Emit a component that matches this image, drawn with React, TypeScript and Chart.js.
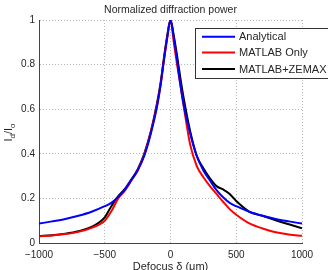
import React, { useEffect, useRef } from "react";
import { Chart, registerables } from "chart.js";

Chart.register(...registerables);

// Defocus positions (µm) shared by all three curves
const defocusUm = [
  -1000, -900, -800, -700, -600, -500, -450, -400, -350, -300, -250, -200, -150, -100, -75, -50, -25,
  0, 25, 50, 75, 100, 150, 200, 250, 300, 350, 400, 450, 500, 600, 700, 800, 900, 1000,
];

// Normalized diffraction power I_d / I_o
const analytical = [
  0.087, 0.097, 0.108, 0.122, 0.14, 0.165, 0.18, 0.205, 0.237, 0.28, 0.325, 0.39, 0.49, 0.62, 0.71, 0.82, 0.92,
  1.0, 0.92, 0.82, 0.71, 0.62, 0.49, 0.39, 0.325, 0.28, 0.237, 0.205, 0.18, 0.165, 0.14, 0.122, 0.108, 0.097, 0.087,
];
const matlabOnly = [
  0.03, 0.034, 0.04, 0.05, 0.068, 0.1, 0.142, 0.198, 0.233, 0.278, 0.325, 0.395, 0.495, 0.625, 0.71, 0.82, 0.92,
  1.0, 0.9, 0.8, 0.71, 0.615, 0.44, 0.345, 0.295, 0.255, 0.22, 0.185, 0.152, 0.127, 0.088, 0.065, 0.048, 0.038, 0.032,
];
const matlabZemax = [
  0.031, 0.035, 0.042, 0.053, 0.072, 0.115, 0.165, 0.208, 0.24, 0.283, 0.33, 0.4, 0.5, 0.635, 0.72, 0.83, 0.93,
  1.0, 0.93, 0.84, 0.74, 0.65, 0.5, 0.39, 0.335, 0.29, 0.255, 0.24, 0.22, 0.188, 0.14, 0.122, 0.102, 0.084, 0.066,
];

const seriesLabels = ["Analytical", "MATLAB Only", "MATLAB+ZEMAX"];
const seriesColors = ["#0000ff", "#ff0000", "#000000"];
const xTicks = [-1000, -500, 0, 500, 1000];
const yTicks = [0, 0.2, 0.4, 0.6, 0.8, 1];
const titleText = "Normalized diffraction power";
const xAxisTitle = "Defocus δ (μm)";

const FONT = '"Liberation Sans", Arial, Helvetica, sans-serif';
const TEXT = "#262626";

const decorations = {
  id: "decorations",
  afterDraw(chart: any) {
    const ctx = chart.ctx as CanvasRenderingContext2D;
    const area = chart.chartArea;
    const cx = (area.left + area.right) / 2;
    ctx.save();
    ctx.fillStyle = TEXT;

    // title
    ctx.font = `10.5px ${FONT}`;
    ctx.textAlign = "center";
    ctx.textBaseline = "alphabetic";
    ctx.fillText(titleText, cx, 12.5);

    // x axis title
    ctx.font = `11px ${FONT}`;
    ctx.fillText(xAxisTitle, cx, 269.5);

    // y axis title with subscripts: I_d / I_o
    const parts = [
      { t: "I", sub: false },
      { t: "d", sub: true },
      { t: "/I", sub: false },
      { t: "o", sub: true },
    ];
    const fontFor = (sub: boolean) => (sub ? `8px ${FONT}` : `11px ${FONT}`);
    let total = 0;
    for (const p of parts) {
      ctx.font = fontFor(p.sub);
      total += ctx.measureText(p.t).width;
    }
    ctx.translate(12, (area.top + area.bottom) / 2 + 1);
    ctx.rotate(-Math.PI / 2);
    ctx.textAlign = "left";
    let px = -total / 2;
    for (const p of parts) {
      ctx.font = fontFor(p.sub);
      ctx.fillText(p.t, px, p.sub ? 3 : 0);
      px += ctx.measureText(p.t).width;
    }
    ctx.restore();

    // legend box
    ctx.save();
    const bx = 195.5, by = 28.5, bw = 140, bh = 50;
    ctx.fillStyle = "#ffffff";
    ctx.fillRect(bx, by, bw, bh);
    ctx.strokeStyle = "#333333";
    ctx.lineWidth = 1;
    ctx.strokeRect(bx, by, bw, bh);
    const rows = [36.7, 52.5, 69];
    ctx.font = `11px ${FONT}`;
    ctx.textAlign = "left";
    ctx.textBaseline = "middle";
    chart.data.datasets.forEach((ds: any, i: number) => {
      const y = rows[i];
      ctx.strokeStyle = ds.borderColor;
      ctx.lineWidth = 2;
      ctx.beginPath();
      ctx.moveTo(202, y);
      ctx.lineTo(235, y);
      ctx.stroke();
      ctx.fillStyle = TEXT;
      ctx.fillText(ds.label, 239, y + 0.5);
    });
    ctx.restore();
  },
};

export default function App() {
  const canvasRef = useRef<HTMLCanvasElement | null>(null);

  useEffect(() => {
    if (!canvasRef.current) return;
    const seriesValues = [analytical, matlabOnly, matlabZemax];
    const chart = new Chart(canvasRef.current, {
      type: "line",
      data: {
        datasets: seriesValues.map((vals, i) => ({
          label: seriesLabels[i],
          data: defocusUm.map((x, j) => ({ x, y: vals[j] })),
          borderColor: seriesColors[i],
          backgroundColor: seriesColors[i],
          borderWidth: 2,
          pointRadius: 0,
          cubicInterpolationMode: "monotone" as const,
          fill: false,
        })),
      },
      options: {
        animation: false,
        responsive: false,
        maintainAspectRatio: false,
        layout: { padding: { left: 0, right: 26, top: 20, bottom: 0 } },
        plugins: {
          legend: { display: false },
          title: { display: false },
          tooltip: { enabled: false },
        },
        scales: {
          x: {
            type: "linear",
            min: -1000,
            max: 1000,
            afterBuildTicks: (scale: any) => {
              scale.ticks = xTicks.map((v) => ({ value: v }));
            },
            afterFit: (scale: any) => {
              scale.height = 27;
            },
            ticks: {
              padding: 6,
              color: TEXT,
              font: { family: FONT, size: 10 },
              maxRotation: 0,
              callback: (v: any) => (v < 0 ? "\u2212" + Math.abs(v) : String(v)),
            },
            grid: { color: "rgba(0,0,0,0.28)", lineWidth: 1, drawTicks: false },
            border: { display: true, color: "#444444", width: 1, dash: [1, 2] },
          },
          y: {
            type: "linear",
            min: 0,
            max: 1,
            afterBuildTicks: (scale: any) => {
              scale.ticks = yTicks.map((v) => ({ value: v }));
            },
            afterFit: (scale: any) => {
              scale.width = 39;
            },
            ticks: {
              padding: 4,
              color: TEXT,
              font: { family: FONT, size: 10 },
              callback: (v: any) => String(Math.round(v * 10) / 10),
            },
            grid: { color: "rgba(0,0,0,0.28)", lineWidth: 1, drawTicks: false },
            border: { display: true, color: "#444444", width: 1, dash: [1, 2] },
          },
        },
      },
      plugins: [decorations],
    });
    return () => chart.destroy();
  }, []);

  return (
    <div style={{ position: "fixed", left: 0, top: 0, width: 328, height: 270, background: "#fff" }}>
      <canvas ref={canvasRef} width={328} height={270} />
    </div>
  );
}
